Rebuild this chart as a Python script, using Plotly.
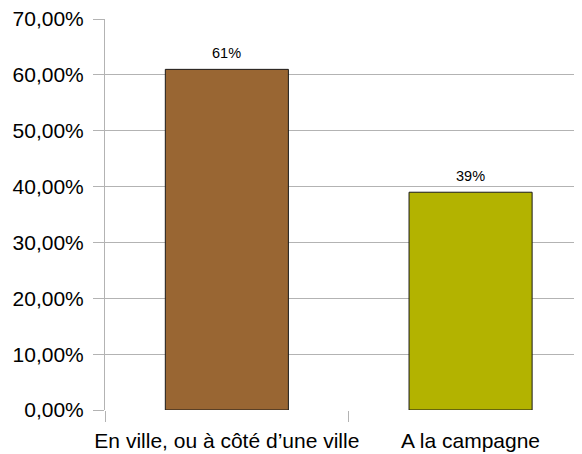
import plotly.graph_objects as go

categories = ["En ville, ou à côté d’une ville", "A la campagne"]
values = [0.61, 0.39]
bar_labels = ["61%", "39%"]
colors = ["#996633", "#b3b300"]
y_ticks = [0, 0.1, 0.2, 0.3, 0.4, 0.5, 0.6, 0.7]
y_tick_labels = ["0,00%", "10,00%", "20,00%", "30,00%", "40,00%", "50,00%", "60,00%", "70,00%"]

fig = go.Figure()
fig.add_trace(go.Bar(
    x=categories, y=values,
    marker=dict(color=colors, line=dict(color="#1a1a1a", width=1)),
    width=0.505,
    hoverinfo="skip",
))

for c, v, t in zip(categories, values, bar_labels):
    fig.add_annotation(x=c, y=v, text=t, showarrow=False, yanchor="bottom", yshift=6,
                       font=dict(family="Liberation Sans, Arial, sans-serif", size=14.5, color="#000"))

fig.update_layout(
    width=582, height=454,
    margin=dict(l=97, r=0, t=11, b=52),
    paper_bgcolor="white", plot_bgcolor="white",
    showlegend=False,
    font=dict(family="Liberation Sans, Arial, sans-serif", size=21, color="#000"),
    xaxis=dict(
        type="category", range=[-0.5, 1.49],
        tickson="boundaries", ticks="outside", ticklen=11, tickcolor="#b3b3b3", tickwidth=1,
        showgrid=False, showline=False, zeroline=False,
        tickangle=0, automargin=False, ticklabelstandoff=16, ticklabeloverflow="allow",
        tickfont=dict(size=21),
    ),
    yaxis=dict(
        range=[0, 0.7002], tickvals=y_ticks, ticktext=y_tick_labels,
        ticks="outside", ticklen=11, tickcolor="#b3b3b3", tickwidth=1,
        showgrid=True, gridcolor="#b3b3b3", gridwidth=1,
        showline=True, linecolor="#b3b3b3", linewidth=1,
        zeroline=False, automargin=False, ticklabelstandoff=5, ticklabeloverflow="allow",
        tickfont=dict(size=21),
    ),
)

fig.write_html("out.html")
